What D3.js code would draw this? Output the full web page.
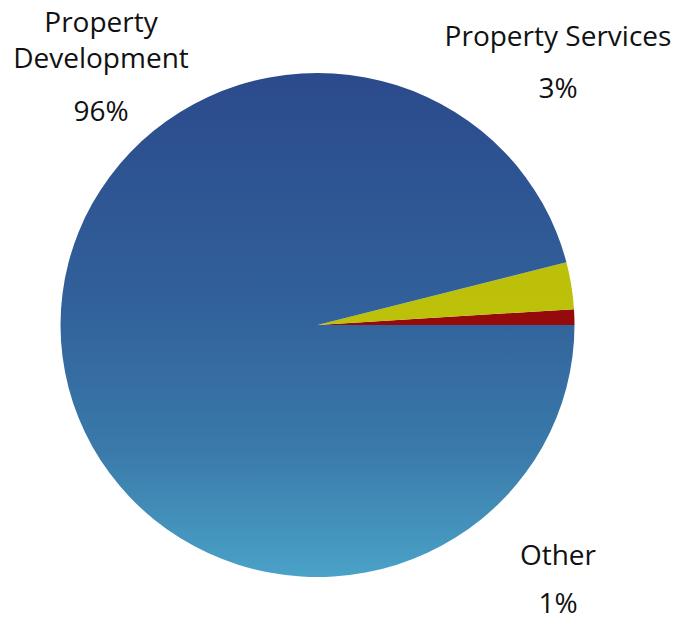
<!DOCTYPE html>
<html>
<head>
<meta charset="utf-8">
<script src="https://cdn.jsdelivr.net/npm/d3@7"></script>
<style>
  html, body { margin: 0; padding: 0; background: #ffffff; }
  svg { display: block; }
  text { font-family: "Open Sans", "Noto Sans", sans-serif; fill: #111; }
</style>
</head>
<body>
<svg id="chart" width="679" height="622"></svg>
<script>
// Data (order: counter-clockwise from 3 o'clock)
const categories = ["Other", "Property Services", "Property Development"];
const values = [1, 3, 96];
const valueLabels = ["1%", "3%", "96%"];

const svg = d3.select("#chart");
const cx = 317.5, cy = 325, rx = 257, ry = 252;

const defs = svg.append("defs");
function grad(id, stops) {
  const g = defs.append("linearGradient")
    .attr("id", id).attr("gradientUnits", "userSpaceOnUse")
    .attr("x1", 0).attr("y1", -rx).attr("x2", 0).attr("y2", rx);
  stops.forEach(([o, c]) => g.append("stop").attr("offset", o).attr("stop-color", c));
}
grad("gBlue", [["0%", "#2b4a8c"], ["45%", "#31609a"], ["75%", "#3a7aaa"], ["100%", "#4aa2c8"]]);
grad("gYellow", [["0%", "#b4bc10"], ["100%", "#c8c600"]]);
grad("gRed", [["0%", "#a00c0c"], ["100%", "#8a0808"]]);
const fills = { "Other": "url(#gRed)", "Property Services": "url(#gYellow)", "Property Development": "url(#gBlue)" };

const pie = d3.pie().sort(null).value(d => d.v)
  .startAngle(Math.PI / 2).endAngle(Math.PI / 2 - 2 * Math.PI);
const arcs = pie(categories.map((c, i) => ({ c, v: values[i] })));
const arc = d3.arc().innerRadius(0).outerRadius(rx);

const g = svg.append("g").attr("transform", `translate(${cx},${cy}) scale(1,${ry / rx})`);
g.selectAll("path").data(arcs).join("path")
  .attr("d", arc)
  .attr("fill", d => fills[d.data.c]);

// Labels
const labels = [
  { lines: ["Property", "Development"], pct: valueLabels[2], x: 101, ys: [32, 68], py: 121 },
  { lines: ["Property Services"], pct: valueLabels[1], x: 558, ys: [46], py: 98 },
  { lines: ["Other"], pct: valueLabels[0], x: 558, ys: [565], py: 613 }
];
labels.forEach(l => {
  l.lines.forEach((t, i) => {
    svg.append("text").attr("x", l.x).attr("y", l.ys[i])
      .attr("text-anchor", "middle").attr("font-size", 28).text(t);
  });
  svg.append("text").attr("x", l.x).attr("y", l.py)
    .attr("text-anchor", "middle").attr("font-size", 28).text(l.pct);
});
</script>
</body>
</html>
